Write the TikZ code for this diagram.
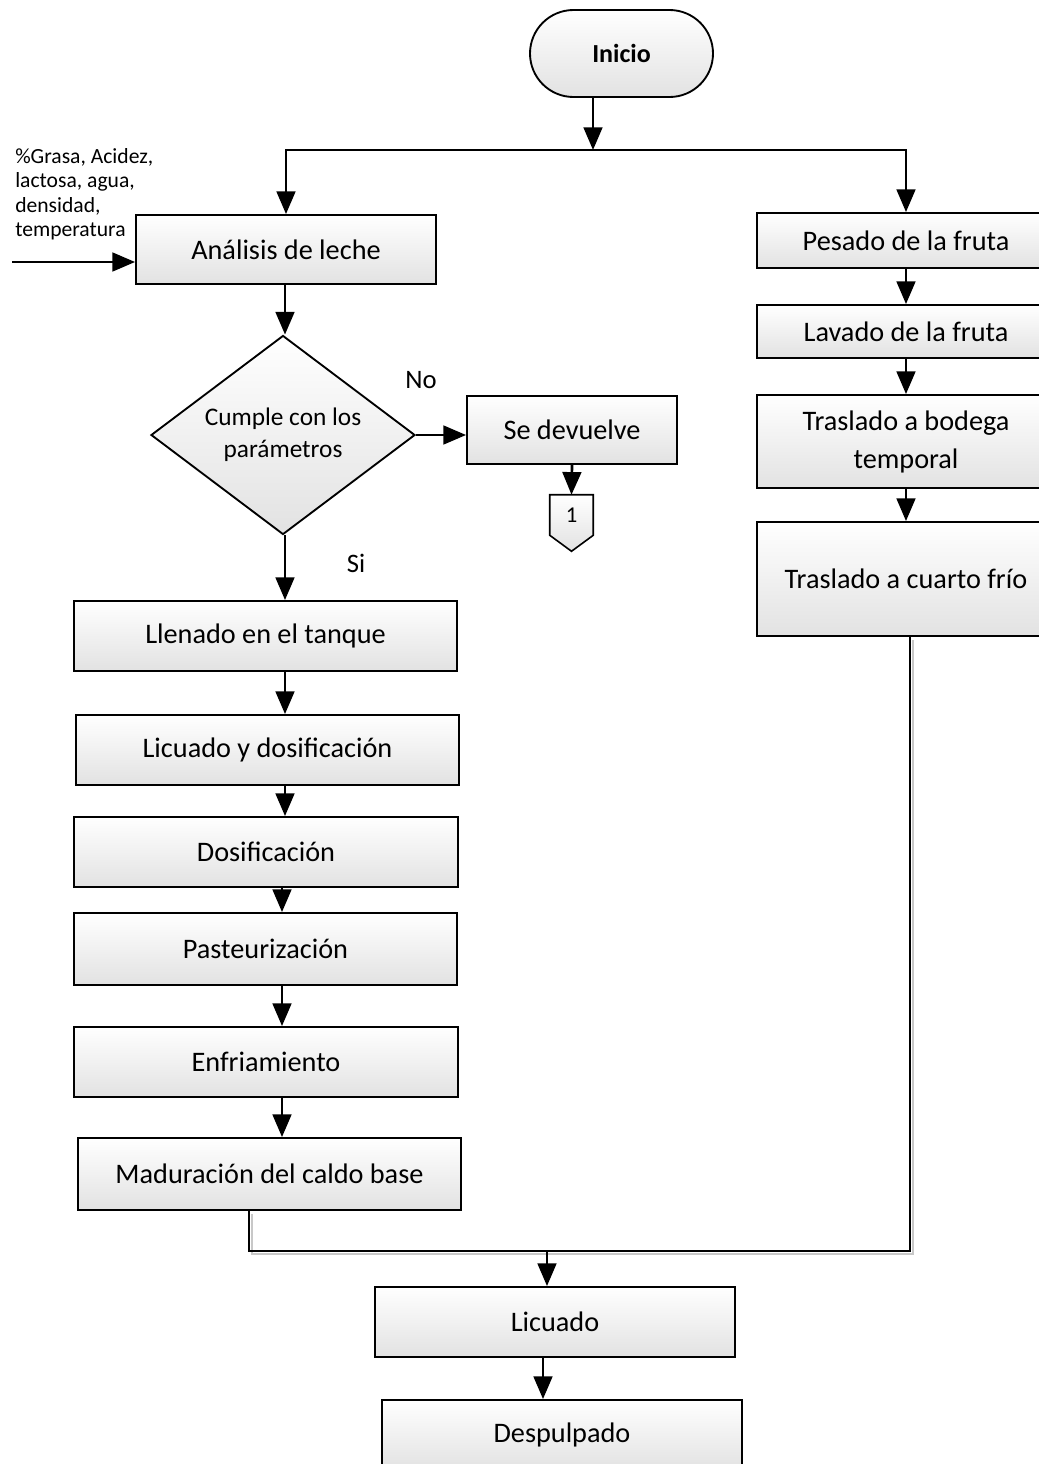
\documentclass[tikz,border=0pt]{standalone}
\usepackage{fontspec}
\setmainfont{Carlito}
\usetikzlibrary{arrows.meta,shapes.geometric,shapes.misc,calc}
\definecolor{boxgray}{HTML}{E2E2E2}
\definecolor{shadowgray}{HTML}{C8C8C8}
\begin{document}
\begin{tikzpicture}[x=0.75pt,y=-0.75pt,
  shadefill/.style={draw=black, line width=1.4pt, top color=white, bottom color=boxgray},
  stepbox/.style 2 args={shadefill, rectangle, minimum width=#1*0.75pt,
    minimum height=#2*0.75pt, inner sep=0pt, align=center,
    font=\fontsize{21.2}{28.5}\selectfont},
  arr/.style={line width=2pt, -{Triangle[length=17pt,width=14pt]}},
  plain/.style={line width=1.6pt},
  lbl/.style={inner sep=0pt, font=\fontsize{20}{24}\selectfont},
]
\useasboundingbox (0,0) rectangle (1039,1464);
\clip (0,0) rectangle (1039,1464);

% start terminal
\node[shadefill, rounded rectangle, minimum width=183*0.75pt, minimum height=87*0.75pt,
  inner sep=0pt, font=\fontsize{19.5}{24}\selectfont\bfseries] (inicio) at (621.5,53.5) {Inicio};

% milk branch
\node[stepbox={300}{69}] (analisis) at (286,249.5) {Análisis de leche};
\node[shadefill, diamond, aspect=1.33, minimum width=264*0.75pt, minimum height=199*0.75pt,
  inner sep=0pt, align=center, font=\fontsize{19}{24}\selectfont] (cumple) at (283,435)
  {Cumple con los\\parámetros};
\node[stepbox={210}{68}] (sedev) at (572,430) {Se devuelve};
\node[inner sep=0pt, minimum width=43*0.75pt, minimum height=40*0.75pt] (conn) at (571.5,515) {};
\draw[shadefill, line width=1.2pt] (conn.north west) -- (conn.north east) -- (conn.south east)
  -- ($(conn.south)+(0,16)$) -- (conn.south west) -- cycle;
\node[inner sep=0pt, font=\fontsize{17}{20}\selectfont] (connlbl) at (conn) {1};

\node[stepbox={383}{70}] (llenado) at (265.5,636) {Llenado en el tanque};
\node[stepbox={383}{70}] (licdos) at (267.5,750) {Licuado y dosificación};
\node[stepbox={384}{70}] (dosif) at (266,852) {Dosificación};
\node[stepbox={383}{72}] (paste) at (265.5,949) {Pasteurización};
\node[stepbox={384}{70}] (enfri) at (266,1062) {Enfriamiento};
\node[stepbox={383}{72}] (madur) at (269.5,1174) {Maduración del caldo base};

% fruit branch
\node[stepbox={298}{55}] (pesado) at (906,240.5) {Pesado de la fruta};
\node[stepbox={298}{53}] (lavado) at (906,331.5) {Lavado de la fruta};
\node[stepbox={298}{93}] (bodega) at (906,441.5) {Traslado a bodega\\temporal};
\node[stepbox={298}{114}] (cuarto) at (906,579) {Traslado a cuarto frío};

% common steps
\node[stepbox={360}{70}] (licuado) at (555,1322) {Licuado};
\node[stepbox={360}{70}] (despul) at (562,1435) {Despulpado};

% labels
\node[anchor=north west, inner sep=0pt, align=left, font=\fontsize{16.2}{18.3}\selectfont]
  (params) at (15,148) {\%Grasa, Acidez,\\lactosa, agua,\\densidad,\\temperatura};
\node[lbl] (nolbl) at (421,380) {No};
\node[lbl] (silbl) at (356,563) {Si};

% helper coordinates
\coordinate (split) at (593,150);
\coordinate (inp) at (12,262);
\coordinate (colL) at (285,0);
\coordinate (colR) at (906,0);
\coordinate (lx) at (249,0);
\coordinate (rx) at (910,0);
\coordinate (merge) at (547,1251);

% connectors
\draw[arr] (inicio.south -| split) -- (split);
\draw[arr] (split) -| (analisis.north);
\draw[arr] (split) -| (pesado.north);
\draw[arr] (inp) -- (inp -| analisis.west);
\draw[arr] (analisis.south -| colL) -- (cumple.north -| colL);
\draw[arr] (cumple.east) -- (sedev.west |- cumple.east);
\draw[arr] (sedev.south) -- (conn.north);
\draw[arr] (cumple.south -| colL) -- (llenado.north -| colL);
\draw[arr] (llenado.south -| colL) -- (licdos.north -| colL);
\draw[arr] (licdos.south -| colL) -- (dosif.north -| colL);
\draw[arr] ($(dosif.south -| colL)+(-3,0)$) -- ($(paste.north -| colL)+(-3,0)$);
\draw[arr] ($(paste.south -| colL)+(-3,0)$) -- ($(enfri.north -| colL)+(-3,0)$);
\draw[arr] ($(enfri.south -| colL)+(-3,0)$) -- ($(madur.north -| colL)+(-3,0)$);

\draw[arr] (pesado.south -| colR) -- (lavado.north -| colR);
\draw[arr] (lavado.south -| colR) -- (bodega.north -| colR);
\draw[arr] (bodega.south -| colR) -- (cuarto.north -| colR);

% merging line with its soft shadow
\draw[shadowgray, line width=1.5pt]
  ($(madur.south -| lx)+(3,3)$) -- ($(lx |- merge)+(3,3)$) -- ($(rx |- merge)+(3,3)$)
  -- ($(cuarto.south -| rx)+(3,3)$);
\draw[plain] (madur.south -| lx) -- (lx |- merge) -- (rx |- merge) -- (cuarto.south -| rx);
\draw[arr] (merge) -- (licuado.north -| merge);
\draw[arr] ($(licuado.south -| merge)+(-4,0)$) -- ($(despul.north -| merge)+(-4,0)$);
\end{tikzpicture}
\end{document}
